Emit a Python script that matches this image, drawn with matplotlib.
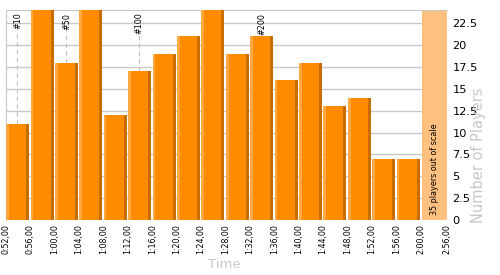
import matplotlib
matplotlib.use("Agg")
import matplotlib.pyplot as plt
import numpy as np

# 4-minute bins, 0:52 .. 2:00, then one compressed "out of scale" bin up to 2:56
tick_labels = ["0:52,00", "0:56,00", "1:00,00", "1:04,00", "1:08,00", "1:12,00",
               "1:16,00", "1:20,00", "1:24,00", "1:28,00", "1:32,00", "1:36,00",
               "1:40,00", "1:44,00", "1:48,00", "1:52,00", "1:56,00", "2:00,00",
               "2:56,00"]
players = [11, 26, 18, 25, 12, 17, 19, 21, 27, 19, 21, 16, 18, 13, 14, 7, 7]
out_of_scale = 35
rank_labels = ["#10", "#50", "#100", "#200"]
rank_pos = [0.48, 2.49, 5.45, 10.49]   # in bin units
rank_bin = [0, 2, 5, 10]

ymax = 24
last_edge = 18.07

fig = plt.figure(figsize=(5, 2.75), dpi=100)
ax = fig.add_axes([0.0114, 0.2, 0.8820, 0.7636])

x = np.arange(len(players))
w = 0.94
x0 = x + 0.02
ax.bar(x0, players, width=w, align="edge", color="#FF8C00", zorder=3, linewidth=0)
# bevel strips
ax.bar(x0, players, width=0.11, align="edge", color="#FFA940", zorder=4, linewidth=0)
ax.bar(x0 + w - 0.12, players, width=0.12, align="edge", color="#C86E00", zorder=4, linewidth=0)

# out of scale area
ax.axvspan(len(players) + 0.04, last_edge, color="#FFC080", zorder=2, linewidth=0)
ax.text((len(players) + 0.04 + last_edge) / 2, 0.6,
        f"{out_of_scale} players out of scale", rotation=90, ha="center", va="bottom",
        fontsize=5.8, color="black", zorder=5)

# rank markers
for lab, xp, b in zip(rank_labels, rank_pos, rank_bin):
    top = 21.6
    if players[b] < top:
        ax.plot([xp, xp], [players[b], top], color="#C0C0C0", lw=0.8,
                ls=(0, (4, 3)), zorder=2)
    ax.text(xp, 23.7, lab, rotation=90, ha="center", va="top", fontsize=5.8,
            color="black", zorder=6)

ax.set_xlim(0, last_edge)
ax.set_ylim(0, ymax)
ax.set_xticks(list(range(len(players) + 1)) + [last_edge])
ax.set_xticklabels(tick_labels, rotation=90, fontsize=5.7)
ax.tick_params(axis="x", length=0, pad=3)

yt = np.arange(0, 23, 2.5)
ax.set_yticks(yt)
ax.set_yticklabels([f"{v:g}" for v in yt], fontsize=8.2)
ax.yaxis.tick_right()
ax.tick_params(axis="y", length=0, pad=4)
ax.grid(axis="y", color="#C8C8C8", lw=1, zorder=1)

for s in ["right", "bottom"]:
    ax.spines[s].set_visible(False)
ax.spines["left"].set_color("#C8C8C8")
ax.spines["top"].set_color("#C8C8C8")

fig.text(0.448, 0.04, "Time", fontsize=9.5, color="#C8C8C8", ha="center", va="center")
fig.text(0.958, 0.436, "Number of Players", fontsize=10.5, color="#C8C8C8",
         rotation=90, ha="center", va="center")

fig.savefig("out.png", dpi=100)
